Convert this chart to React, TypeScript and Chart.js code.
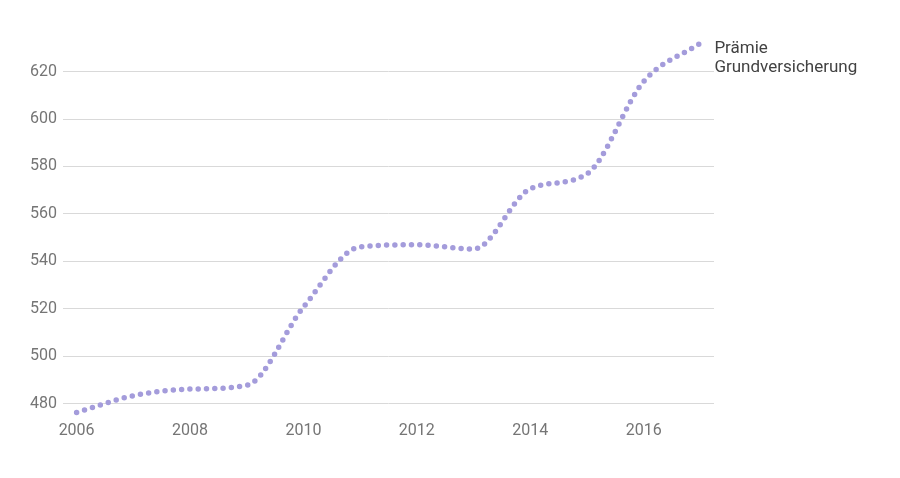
import React, { useEffect, useRef } from "react";
import { Chart, registerables } from "chart.js";

Chart.register(...registerables);

const years = [2006, 2007, 2008, 2009, 2010, 2011, 2012, 2013, 2014, 2015, 2016, 2017];
const premiums = [476.3, 483.4, 486.2, 487.8, 520.7, 546.1, 547.0, 545.2, 570.6, 576.9, 615.8, 632.0];
const xTickLabels = [2006, 2008, 2010, 2012, 2014, 2016];
const yTickLabels = [480, 500, 520, 540, 560, 580, 600, 620];
const seriesLabel = ["Prämie", "Grundversicherung"];

const endLabelPlugin = {
  id: "endLabel",
  afterDatasetsDraw(chart: any) {
    const meta = chart.getDatasetMeta(0);
    const pts = meta.data;
    if (!pts || !pts.length) return;
    const last = pts[pts.length - 1];
    const ctx = chart.ctx;
    ctx.save();
    ctx.font = "17px Roboto";
    ctx.fillStyle = "#424242";
    ctx.textAlign = "left";
    ctx.textBaseline = "alphabetic";
    const x = last.x + 14;
    const y0 = last.y + 9.5;
    seriesLabel.forEach((line, i) => {
      ctx.fillText(line, x, y0 + i * 19.5);
    });
    ctx.restore();
  },
};

export default function App() {
  const ref = useRef<HTMLCanvasElement | null>(null);
  useEffect(() => {
    if (!ref.current) return;
    const chart = new Chart(ref.current, {
      type: "line",
      data: {
        datasets: [
          {
            label: seriesLabel.join(" "),
            data: years.map((y, i) => ({ x: y, y: premiums[i] })),
            borderColor: "#a49cdb",
            borderWidth: 5.5,
            borderDash: [0, 8.3],
            borderCapStyle: "round",
            pointRadius: 0,
            cubicInterpolationMode: "monotone",
            fill: false,
          },
        ],
      },
      options: {
        animation: false,
        responsive: false,
        maintainAspectRatio: false,
        layout: { padding: { top: 36, right: 186, bottom: 0, left: 0 } },
        plugins: { legend: { display: false }, tooltip: { enabled: false } },
        scales: {
          x: {
            type: "linear",
            min: 2005.76,
            max: 2017.24,
            border: { display: false },
            grid: { display: false, drawTicks: false },
            afterBuildTicks: (s: any) => {
              s.ticks = xTickLabels.map((v) => ({ value: v }));
            },
            afterFit: (s: any) => {
              s.height = 60;
            },
            ticks: {
              color: "#757575",
              font: { family: "Roboto", size: 16 },
              padding: 3,
              maxRotation: 0,
              autoSkip: false,
              callback: (v: any) => String(v),
            },
          },
          y: {
            type: "linear",
            min: 474,
            max: 635,
            border: { display: false },
            grid: { color: "#d9d9d9", lineWidth: 1, drawTicks: false },
            afterBuildTicks: (s: any) => {
              s.ticks = yTickLabels.map((v) => ({ value: v }));
            },
            afterFit: (s: any) => {
              s.width = 63;
            },
            ticks: {
              color: "#757575",
              font: { family: "Roboto", size: 16 },
              padding: 6,
              callback: (v: any) => String(v),
            },
          },
        },
      },
      plugins: [endLabelPlugin],
    } as any);
    return () => chart.destroy();
  }, []);
  return (
    <div style={{ position: "fixed", left: 0, top: 0, width: 900, height: 478, background: "#fff" }}>
      <canvas ref={ref} width={900} height={478} style={{ width: 900, height: 478 }} />
    </div>
  );
}
